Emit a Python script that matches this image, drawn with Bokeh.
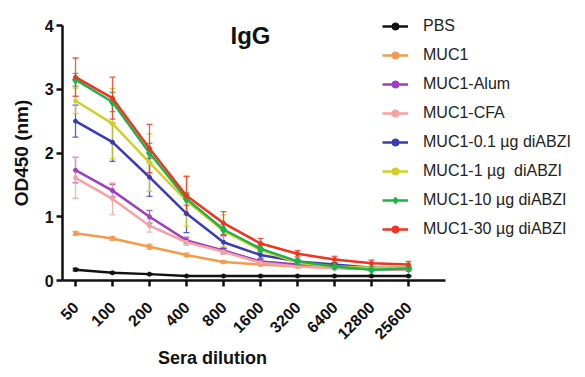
from bokeh.plotting import figure
from bokeh.models import (FixedTicker, Legend, LegendItem, Label, Whisker, ColumnDataSource,
                          TeeHead, Range1d)
from bokeh.embed import file_html
from bokeh.resources import INLINE
from math import pi

dilutions = ["50", "100", "200", "400", "800", "1600", "3200", "6400", "12800", "25600"]

series_names = ["PBS", "MUC1", "MUC1-Alum", "MUC1-CFA", "MUC1-0.1 µg diABZI",
                "MUC1-1 µg  diABZI", "MUC1-10 µg diABZI", "MUC1-30 µg diABZI"]

pbs =      [0.17, 0.12, 0.10, 0.07, 0.07, 0.07, 0.07, 0.07, 0.07, 0.07]
muc1 =     [0.74, 0.66, 0.53, 0.40, 0.29, 0.25, 0.22, 0.20, 0.18, 0.17]
alum =     [1.73, 1.41, 1.00, 0.63, 0.47, 0.30, 0.25, 0.20, 0.18, 0.17]
cfa =      [1.61, 1.28, 0.86, 0.60, 0.45, 0.28, 0.22, 0.20, 0.18, 0.17]
d01 =      [2.50, 2.17, 1.62, 1.05, 0.60, 0.40, 0.30, 0.25, 0.20, 0.20]
d1 =       [2.82, 2.46, 1.85, 1.25, 0.78, 0.48, 0.28, 0.22, 0.20, 0.20]
d10 =      [3.15, 2.80, 2.00, 1.28, 0.80, 0.50, 0.30, 0.22, 0.17, 0.19]
d30 =      [3.19, 2.86, 2.07, 1.33, 0.90, 0.58, 0.42, 0.33, 0.27, 0.25]

pbs_err =  [0.02, 0.01, 0.01, 0.01, 0.01, 0.01, 0.01, 0.01, 0.01, 0.01]
muc1_err = [0.03, 0.03, 0.04, 0.03, 0.02, 0.02, 0.02, 0.02, 0.02, 0.02]
alum_err = [0.20, 0.10, 0.10, 0.05, 0.04, 0.03, 0.02, 0.02, 0.02, 0.02]
cfa_err =  [0.32, 0.25, 0.10, 0.05, 0.04, 0.03, 0.02, 0.02, 0.02, 0.02]
d01_err =  [0.25, 0.30, 0.30, 0.30, 0.10, 0.05, 0.03, 0.03, 0.02, 0.02]
d1_err =   [0.20, 0.55, 0.45, 0.40, 0.25, 0.08, 0.04, 0.03, 0.02, 0.02]
d10_err =  [0.10, 0.15, 0.15, 0.10, 0.08, 0.05, 0.03, 0.03, 0.02, 0.02]
d30_err =  [0.30, 0.33, 0.38, 0.30, 0.18, 0.08, 0.05, 0.05, 0.05, 0.05]

values = [pbs, muc1, alum, cfa, d01, d1, d10, d30]
errors = [pbs_err, muc1_err, alum_err, cfa_err, d01_err, d1_err, d10_err, d30_err]
colors = ["#111111", "#F39A4C", "#9C3FC0", "#F4A3A3", "#3B3BB5", "#D6CE25", "#22B04B", "#F2331F"]
markers = ["circle", "circle", "circle", "circle", "circle", "circle", "diamond", "circle"]
msizes = [4, 4, 4, 4, 4, 4, 9, 4]

FONT = "Liberation Sans"
W, H = 577, 369

p = figure(width=W, height=H, output_backend="svg", toolbar_location=None,
           x_range=Range1d(-75 / 37, (W - 75) / 37), y_range=Range1d((280 - H) / 63.75, 280 / 63.75),
           min_border=0)
p.grid.visible = False
p.outline_line_color = None
p.background_fill_color = "white"
p.border_fill_color = "white"

xs = list(range(len(dilutions)))
items = []
for name, v, e, c, m, ms in zip(series_names, values, errors, colors, markers, msizes):
    src = ColumnDataSource(dict(x=xs, y=v, lo=[a - b for a, b in zip(v, e)], hi=[a + b for a, b in zip(v, e)]))
    w = Whisker(source=src, base="x", upper="hi", lower="lo", line_color=c, line_width=1.3, line_alpha=0.8,
                upper_head=TeeHead(size=6, line_color=c, line_width=1.3, line_alpha=0.8),
                lower_head=TeeHead(size=6, line_color=c, line_width=1.3, line_alpha=0.8))
    p.add_layout(w)
    r1 = p.line("x", "y", source=src, line_color=c, line_width=2.5)
    r2 = p.scatter("x", "y", source=src, marker=m, size=ms, color=c)
    items.append(LegendItem(label=name, renderers=[r1, r2]))

legend = Legend(items=items, location=(382, H - 238), border_line_color=None, background_fill_alpha=0,
                label_text_font=FONT, label_text_font_size="16px",
                label_text_color="#222222", spacing=11, glyph_width=26, glyph_height=18, label_height=18,
                label_standoff=15, padding=0, margin=0)
p.add_layout(legend, "center")

for ax in (p.xaxis[0], p.yaxis[0]):
    ax.axis_line_width = 2.5
    ax.major_tick_line_width = 2.5
    ax.major_tick_out = 6
    ax.major_tick_in = 0
    ax.minor_tick_line_color = None
    ax.major_label_text_font = FONT
    ax.major_label_text_font_style = "bold"
    ax.major_label_text_font_size = "16px"
    ax.axis_line_color = "#111111"
    ax.major_tick_line_color = "#111111"
    ax.major_label_text_color = "#111111"

p.xaxis.fixed_location = 0
p.xaxis.bounds = (-0.35, 10.0)
p.xaxis.ticker = FixedTicker(ticks=xs)
p.xaxis.major_label_overrides = {i: d for i, d in enumerate(dilutions)}
p.xaxis.major_label_orientation = pi / 4
p.xaxis.major_label_standoff = 18

p.yaxis.fixed_location = -0.35
p.yaxis.bounds = (0, 4)
p.yaxis.ticker = FixedTicker(ticks=[0, 1, 2, 3, 4])
p.yaxis.major_label_standoff = 3
p.yaxis.axis_label = "OD450 (nm)"
p.yaxis.axis_label_text_font = FONT
p.yaxis.axis_label_text_font_style = "bold"
p.yaxis.axis_label_text_font_size = "19px"
p.yaxis.axis_label_text_color = "#111111"
p.yaxis.axis_label_standoff = 10

p.add_layout(Label(x=4.73, y=3.84, text="IgG", text_font=FONT, text_font_style="bold",
                   text_font_size="24px", text_align="center", text_baseline="alphabetic",
                   text_color="#111111"))
p.add_layout(Label(x=3.70, y=-1.22, text="Sera dilution", text_font=FONT, text_font_style="bold",
                   text_font_size="18px", text_align="center", text_baseline="middle",
                   text_color="#111111"))

open("out.html", "w").write(file_html(p, INLINE))
